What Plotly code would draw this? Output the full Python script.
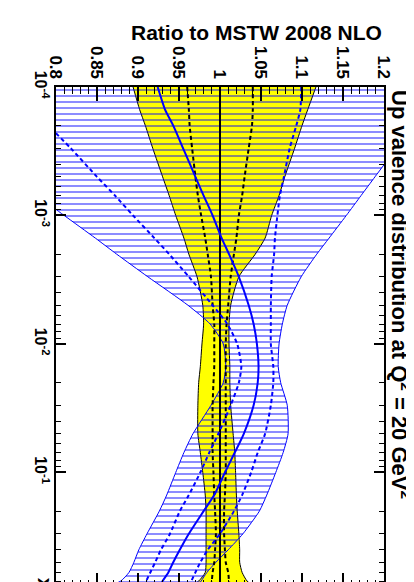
import plotly.graph_objects as go

# x values (momentum fraction)
x_vals = [1e-4, 1.5e-4, 2e-4, 3e-4, 5e-4, 7e-4, 1e-3, 1.5e-3, 2e-3, 3e-3, 5e-3, 7e-3,
          1e-2, 1.5e-2, 2e-2, 3e-2, 5e-2, 7e-2, 0.1, 0.15, 0.2, 0.3, 0.4, 0.5, 0.6, 0.7, 0.78]

# MSTW 2008 NLO (reference) band, ratio to itself
mstw_central = [1.0, 1.0, 1.0, 1.0, 1.0, 1.0, 1.0, 1.0, 1.0, 1.0, 1.0, 1.0, 1.0, 1.0,
                1.0, 1.0, 1.0, 1.0, 1.0, 1.0, 1.0, 1.0, 1.0, 1.0, 1.0, 1.0, 1.0]
mstw_lo = [0.894, 0.902, 0.909, 0.918, 0.930, 0.938, 0.946, 0.956, 0.962, 0.972, 0.979, 0.980,
           0.978, 0.976, 0.974, 0.973, 0.973, 0.976, 0.979, 0.982, 0.983, 0.983, 0.983, 0.983,
           0.982, 0.974, 0.961]
mstw_hi = [1.117, 1.107, 1.100, 1.091, 1.079, 1.072, 1.063, 1.055, 1.043, 1.023, 1.013, 1.011,
           1.011, 1.012, 1.012, 1.013, 1.016, 1.018, 1.019, 1.020, 1.021, 1.023, 1.024, 1.024,
           1.027, 1.033, 1.043]
mstw_68_lo = [0.960, 0.962, 0.963, 0.966, 0.970, 0.973, 0.977, 0.982, 0.985, 0.989, 0.991, 0.993,
              0.993, 0.993, 0.992, 0.991, 0.991, 0.991, 0.992, 0.993, 0.994, 0.995, 0.994, 0.993,
              0.991, 0.990, 0.989]
mstw_68_hi = [1.040, 1.040, 1.039, 1.035, 1.030, 1.027, 1.023, 1.020, 1.017, 1.013, 1.010, 1.008,
              1.007, 1.007, 1.007, 1.007, 1.007, 1.007, 1.007, 1.006, 1.005, 1.005, 1.006, 1.007,
              1.010, 1.011, 1.012]

# Alternative PDF set (blue hatched band)
alt_central = [0.924, 0.933, 0.943, 0.955, 0.970, 0.980, 0.991, 1.002, 1.011, 1.023, 1.035, 1.041,
               1.045, 1.047, 1.046, 1.041, 1.029, 1.018, 1.006, 0.993, 0.980, 0.962, 0.951, 0.943,
               0.937, 0.930, 0.926]
alt_68_lo = [0.748, 0.773, 0.791, 0.818, 0.850, 0.872, 0.894, 0.920, 0.938, 0.962, 0.991, 1.009,
             1.021, 1.026, 1.023, 1.013, 0.998, 0.987, 0.976, 0.962, 0.951, 0.939, 0.928, 0.921,
             0.915, 0.910, 0.906]
alt_68_hi = [1.099, 1.098, 1.093, 1.085, 1.078, 1.073, 1.070, 1.067, 1.066, 1.063, 1.062, 1.062,
             1.062, 1.065, 1.065, 1.062, 1.055, 1.046, 1.038, 1.027, 1.017, 1.000, 0.985, 0.976,
             0.970, 0.965, 0.961]
alt_lo = [0.595, 0.633, 0.660, 0.698, 0.745, 0.777, 0.810, 0.848, 0.874, 0.912, 0.961, 0.988,
          1.004, 1.007, 1.004, 0.989, 0.967, 0.956, 0.946, 0.935, 0.926, 0.911, 0.901, 0.895,
          0.889, 0.879, 0.861]
alt_hi = [1.271, 1.250, 1.235, 1.215, 1.189, 1.172, 1.154, 1.133, 1.118, 1.099, 1.082, 1.076,
          1.072, 1.071, 1.074, 1.082, 1.083, 1.077, 1.068, 1.057, 1.048, 1.028, 1.010, 0.995,
          0.984, 0.977, 0.972]

ratio_ticks = [0.8, 0.85, 0.9, 0.95, 1.0, 1.05, 1.1, 1.15, 1.2]
ratio_labels = ["0.8", "0.85", "0.9", "0.95", "1", "1.05", "1.1", "1.15", "1.2"]
x_ticks = [1e-4, 1e-3, 1e-2, 1e-1]
x_labels = ["10<sup>-4</sup>", "10<sup>-3</sup>", "10<sup>-2</sup>", "10<sup>-1</sup>"]

FONT = "Liberation Sans, Arial, sans-serif"
BLUE = "#0000ff"
sm = 0.6

fig = go.Figure()

# yellow MSTW band
fig.add_trace(go.Scatter(x=mstw_lo, y=x_vals, mode="lines",
                         line=dict(color="black", width=1, shape="spline", smoothing=sm),
                         showlegend=False, hoverinfo="skip"))
fig.add_trace(go.Scatter(x=mstw_hi, y=x_vals, mode="lines", fill="tonextx",
                         fillcolor="#ffff00",
                         line=dict(color="black", width=1, shape="spline", smoothing=sm),
                         showlegend=False, hoverinfo="skip"))

# blue hatched band
fig.add_trace(go.Scatter(x=alt_lo, y=x_vals, mode="lines",
                         line=dict(color=BLUE, width=1, shape="spline", smoothing=sm),
                         showlegend=False, hoverinfo="skip"))
fig.add_trace(go.Scatter(x=alt_hi, y=x_vals, mode="lines", fill="tonextx",
                         fillcolor="rgba(0,0,0,0)",
                         fillpattern=dict(shape="-", fgcolor=BLUE, bgcolor="rgba(0,0,0,0)",
                                          size=6, solidity=0.3, fillmode="overlay"),
                         line=dict(color=BLUE, width=1, shape="spline", smoothing=sm),
                         showlegend=False, hoverinfo="skip"))

# MSTW lines
for arr in (mstw_68_lo, mstw_68_hi):
    fig.add_trace(go.Scatter(x=arr, y=x_vals, mode="lines",
                             line=dict(color="black", width=2, dash="4px,3px",
                                       shape="spline", smoothing=sm),
                             showlegend=False, hoverinfo="skip"))
fig.add_trace(go.Scatter(x=mstw_central, y=x_vals, mode="lines",
                         line=dict(color="black", width=2),
                         showlegend=False, hoverinfo="skip"))

# alternative set lines
for arr in (alt_68_lo, alt_68_hi):
    fig.add_trace(go.Scatter(x=arr, y=x_vals, mode="lines",
                             line=dict(color=BLUE, width=2, dash="4px,3px",
                                       shape="spline", smoothing=sm),
                             showlegend=False, hoverinfo="skip"))
fig.add_trace(go.Scatter(x=alt_central, y=x_vals, mode="lines",
                         line=dict(color=BLUE, width=2, shape="spline", smoothing=sm),
                         showlegend=False, hoverinfo="skip"))

minor_x = [m * 10 ** e for e in (-4, -3, -2, -1) for m in range(2, 10)]

fig.update_layout(
    width=414, height=582,
    margin=dict(l=48, r=38, t=79, b=1),
    paper_bgcolor="white", plot_bgcolor="white",
    font=dict(family=FONT, color="black", size=16),
    xaxis=dict(
        range=[0.8, 1.2], side="top",
        tickmode="array", tickvals=ratio_ticks,
        ticktext=["<b>%s</b>" % t for t in ratio_labels],
        tickangle=90, ticks="inside", ticklen=14, tickwidth=1.5, tickcolor="black",
        tickfont=dict(family=FONT, size=17, color="black"),
        minor=dict(tick0=0.8, dtick=0.01, ticks="inside", ticklen=7, tickwidth=1,
                   tickcolor="black", showgrid=False),
        showline=True, linewidth=2, linecolor="black", mirror="allticks",
        showgrid=False, zeroline=False,
    ),
    yaxis=dict(
        type="log", range=[-0.1085, -4],
        tickmode="array", tickvals=x_ticks,
        ticktext=["<b>%s</b>" % t for t in x_labels],
        tickangle=90, ticks="inside", ticklen=10, tickwidth=1.5, tickcolor="black",
        tickfont=dict(family=FONT, size=16, color="black"),
        minor=dict(tickvals=minor_x, ticks="inside", ticklen=5, tickwidth=1,
                   tickcolor="black", showgrid=False),
        showline=True, linewidth=2, linecolor="black", mirror="allticks",
        showgrid=False, zeroline=False,
    ),
    annotations=[
        dict(text="<b>Ratio to MSTW 2008 NLO</b>", xref="paper", yref="paper",
             x=1.0, y=1.1096, xanchor="right", yanchor="middle", showarrow=False,
             font=dict(family=FONT, size=21, color="black")),
        dict(text="<b>Up valence distribution at Q<sup>2</sup> = 20 GeV<sup>2</sup></b>",
             xref="paper", yref="paper", x=1.052, y=0.5857, xanchor="center",
             yanchor="middle", textangle=90, showarrow=False,
             font=dict(family=FONT, size=22, color="black")),
        dict(text="<b>x</b>", xref="paper", yref="paper", x=-0.03, y=0.006,
             xanchor="center", yanchor="middle", textangle=90, showarrow=False,
             font=dict(family=FONT, size=21, color="black")),
    ],
)

fig.write_html("out.html")
